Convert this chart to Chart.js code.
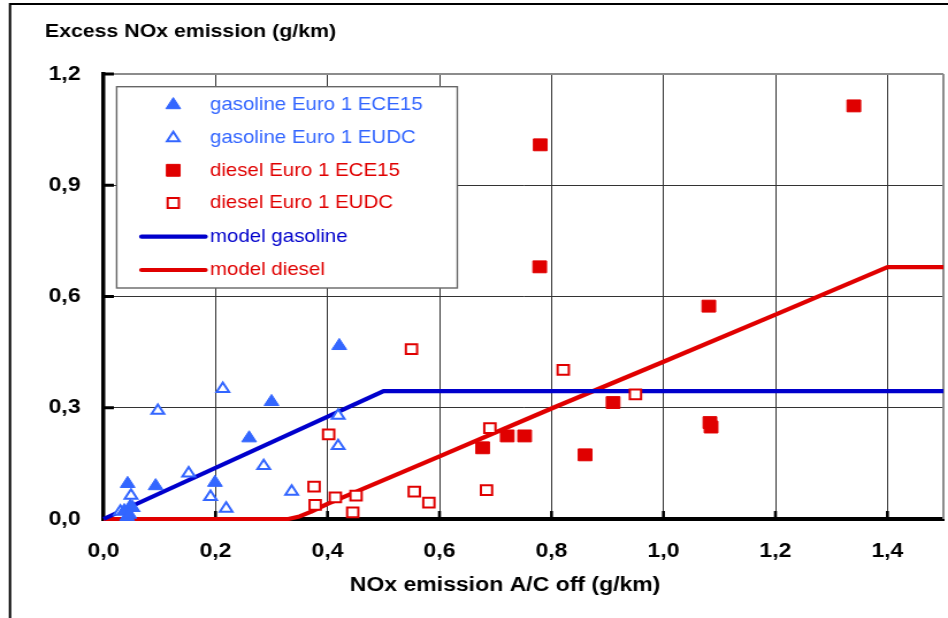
<!DOCTYPE html>
<html>
<head>
<meta charset="utf-8">
<script src="https://cdn.jsdelivr.net/npm/chart.js@4.4.1/dist/chart.umd.min.js"></script>
<style>
  html, body { margin: 0; padding: 0; background: #fff; overflow: hidden; width: 948px; height: 618px; }
  #wrap { width: 824px; height: 618px; transform: scaleX(1.1505); transform-origin: 0 0; }
  canvas { display: block; }
</style>
</head>
<body>
<div id="wrap"><canvas id="c" width="824" height="618"></canvas></div>
<script>
// Axis tick labels (decimal comma)
const xTickLabels = ['0,0', '0,2', '0,4', '0,6', '0,8', '1,0', '1,2', '1,4'];
const yTickLabels = ['0,0', '0,3', '0,6', '0,9', '1,2'];

const yAxisTitle = 'Excess NOx emission (g/km)';
const xAxisTitle = 'NOx emission A/C off (g/km)';

const seriesNames = [
  'gasoline Euro 1 ECE15',
  'gasoline Euro 1 EUDC',
  'diesel Euro 1 ECE15',
  'diesel Euro 1 EUDC',
  'model gasoline',
  'model diesel'
];

// Measured vehicles: [NOx A/C off, excess NOx] in g/km
const gasolineEce15 = [
  [0.421, 0.467], [0.300, 0.316], [0.260, 0.218], [0.199, 0.098], [0.093, 0.089],
  [0.043, 0.095], [0.048, 0.034], [0.037, 0.022], [0.042, 0.006], [0.046, 0.012]
];
const gasolineEudc = [
  [0.213, 0.351], [0.097, 0.292], [0.419, 0.279], [0.419, 0.197], [0.286, 0.143],
  [0.152, 0.123], [0.336, 0.074], [0.191, 0.060], [0.049, 0.063], [0.219, 0.028],
  [0.030, 0.020], [0.052, 0.030]
];
const dieselEce15 = [
  [1.340, 1.114], [0.780, 1.009], [0.779, 0.680], [1.081, 0.574], [0.910, 0.314],
  [1.083, 0.260], [1.085, 0.248], [0.860, 0.173], [0.752, 0.224], [0.721, 0.224],
  [0.677, 0.192]
];
const dieselEudc = [
  [0.550, 0.458], [0.821, 0.402], [0.950, 0.336], [0.690, 0.245], [0.402, 0.228],
  [0.376, 0.087], [0.684, 0.078], [0.378, 0.038], [0.414, 0.058], [0.451, 0.063],
  [0.445, 0.018], [0.555, 0.074], [0.581, 0.044]
];

// Model curves
const modelGasoline = [[0, 0], [0.50, 0.345], [1.50, 0.345]];
const modelDiesel = [
  [0, 0], [0.33, 0], [0.35, 0.007], [0.37, 0.019], [0.40, 0.041], [0.60, 0.169],
  [0.80, 0.298], [1.00, 0.424], [1.20, 0.551], [1.40, 0.679], [1.50, 0.679]
];

const BLUE = '#3366FF';
const RED = '#E00000';
const NAVY = '#0000CC';
const FONT = "'Liberation Sans', Arial, Helvetica, sans-serif";

const toPts = arr => arr.map(([x, y]) => ({ x, y }));

function markerSet(label, data, style, radius, fill, stroke, bw) {
  return {
    label, data: toPts(data), showLine: false, order: 1, clip: false,
    pointStyle: style, pointRadius: radius, pointHoverRadius: radius,
    pointBackgroundColor: fill, pointBorderColor: stroke, pointBorderWidth: bw,
    backgroundColor: fill, borderColor: stroke, legendText: stroke
  };
}
function lineSet(label, data, color) {
  return {
    label, data: toPts(data), showLine: true, order: 2, clip: false,
    borderColor: color, backgroundColor: color, borderWidth: 4.2,
    pointRadius: 0, pointHoverRadius: 0, tension: 0, fill: false,
    borderJoinStyle: 'round', borderCapStyle: 'butt', legendText: color
  };
}

const datasets = [
  markerSet(seriesNames[0], gasolineEce15, 'triangle', 7.4, BLUE, BLUE, 1),
  markerSet(seriesNames[1], gasolineEudc, 'triangle', 6.3, '#ffffff', BLUE, 2),
  markerSet(seriesNames[2], dieselEce15, 'rect', 8.4, RED, RED, 1),
  markerSet(seriesNames[3], dieselEudc, 'rect', 6.9, '#ffffff', RED, 2),
  lineSet(seriesNames[4], modelGasoline, NAVY),
  lineSet(seriesNames[5], modelDiesel, RED)
];

function drawMarker(ctx, ds, x, y) {
  ctx.save();
  ctx.fillStyle = ds.pointBackgroundColor;
  ctx.strokeStyle = ds.pointBorderColor;
  ctx.lineWidth = ds.pointBorderWidth;
  Chart.helpers.drawPoint(ctx, {
    pointStyle: ds.pointStyle, radius: ds.pointRadius, rotation: 0,
    borderWidth: ds.pointBorderWidth
  }, x, y);
  ctx.restore();
}

const decor = {
  id: 'decor',
  beforeDatasetsDraw(chart) {
    const { ctx, chartArea: a, scales: { x, y } } = chart;
    ctx.save();
    // right edge of the plot area
    ctx.strokeStyle = '#8c8c8c';
    ctx.lineWidth = 2;
    ctx.beginPath();
    ctx.moveTo(a.right, a.top);
    ctx.lineTo(a.right, a.bottom);
    ctx.stroke();
    // inward tick marks
    ctx.fillStyle = '#000';
    x.ticks.forEach(t => {
      if (t.value > 0) {
        const px = x.getPixelForValue(t.value);
        ctx.fillRect(px - 1.3, a.bottom - 8, 2.6, 8);
      }
    });
    y.ticks.forEach(t => {
      if (t.value > 0) {
        const py = y.getPixelForValue(t.value);
        ctx.fillRect(a.left, py - 1.5, 9, 3);
      }
    });
    ctx.restore();
  },
  afterDraw(chart) {
    const { ctx, width, height } = chart;
    ctx.save();
    // outer frame
    ctx.strokeStyle = '#000';
    ctx.lineWidth = 2;
    ctx.beginPath();
    ctx.moveTo(8.7, height + 2);
    ctx.lineTo(8.7, 4);
    ctx.lineTo(width + 2, 4);
    ctx.stroke();

    // axis titles
    ctx.fillStyle = '#000';
    ctx.textBaseline = 'alphabetic';
    ctx.font = `bold 18.5px ${FONT}`;
    ctx.textAlign = 'left';
    ctx.fillText(yAxisTitle, 39.1, 36.7);
    ctx.font = `bold 20px ${FONT}`;
    ctx.textAlign = 'center';
    ctx.fillText(xAxisTitle, 439, 590.5);

    // legend box
    const L = 101.4, T = 86.7, R = 397.5, B = 288;
    ctx.fillStyle = '#fff';
    ctx.fillRect(L, T, R - L, B - T);
    ctx.strokeStyle = '#666';
    ctx.lineWidth = 1.4;
    ctx.strokeRect(L, T, R - L, B - T);
    const rows = [105, 138, 170.3, 203, 236.7, 270];
    ctx.font = `17.8px ${FONT}`;
    ctx.textAlign = 'left';
    ctx.textBaseline = 'middle';
    chart.data.datasets.forEach((ds, i) => {
      const ry = rows[i];
      if (ds.showLine) {
        ctx.strokeStyle = ds.borderColor;
        ctx.lineWidth = ds.borderWidth;
        ctx.lineCap = 'round';
        ctx.beginPath();
        ctx.moveTo(123, ry);
        ctx.lineTo(178.5, ry);
        ctx.stroke();
      } else {
        drawMarker(ctx, ds, 150.6, ry);
      }
      ctx.fillStyle = ds.legendText;
      ctx.fillText(ds.label, 182.5, ry + 0.5);
    });
    ctx.restore();
  }
};

const topGrid = top => ctx => (ctx.tick && ctx.tick.value >= top - 1e-6) ? '#8c8c8c' : '#333333';
const topWidth = top => ctx => (ctx.tick && ctx.tick.value >= top - 1e-6) ? 2 : 1;

new Chart(document.getElementById('c'), {
  type: 'scatter',
  data: { datasets },
  plugins: [decor],
  options: {
    responsive: false,
    animation: false,
    events: [],
    devicePixelRatio: 1,
    layout: { autoPadding: false, padding: { left: 0, right: 4, top: 74, bottom: 0 } },
    plugins: { legend: { display: false }, tooltip: { enabled: false }, title: { display: false } },
    scales: {
      x: {
        type: 'linear', min: 0, max: 1.5,
        ticks: {
          stepSize: 0.2, includeBounds: false, autoSkip: false, maxRotation: 0, padding: 20, color: '#000',
          font: { family: FONT, size: 20, weight: 'bold' },
          callback: v => {
            const i = Math.round(v / 0.2);
            return (Math.abs(v - i * 0.2) < 1e-6 && i < xTickLabels.length) ? xTickLabels[i] : '';
          }
        },
        grid: { drawTicks: false, color: '#333333', lineWidth: 1 },
        border: { display: true, color: '#000', width: 4 },
        afterFit: s => { s.height = 99; s.paddingLeft = 0; s.paddingRight = 0; }
      },
      y: {
        type: 'linear', min: 0, max: 1.2,
        ticks: {
          stepSize: 0.3, padding: 20, color: '#000',
          font: { family: FONT, size: 20, weight: 'bold' },
          callback: v => yTickLabels[Math.round(v / 0.3)]
        },
        grid: { drawTicks: false, color: topGrid(1.2), lineWidth: topWidth(1.2) },
        border: { display: true, color: '#000', width: 3.5 },
        afterFit: s => { s.width = 90; s.paddingTop = 0; s.paddingBottom = 0; }
      }
    }
  }
});
</script>
</body>
</html>
